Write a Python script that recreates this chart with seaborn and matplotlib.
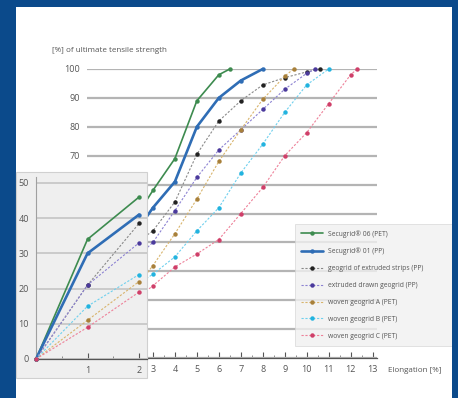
import matplotlib
matplotlib.use("Agg")
import matplotlib.pyplot as plt
from matplotlib.patches import Rectangle
from matplotlib.ticker import MultipleLocator
import seaborn as sns

sns.set_theme(style="white")
plt.rcParams['font.family'] = ['Open Sans', 'DejaVu Sans']

## series: elongation [%] vs [%] of ultimate tensile strength
names = ["Secugrid® 06 (PET)", "Secugrid® 01 (PP)", "geogrid of extruded strips (PP)",
         "extruded drawn geogrid (PP)", "woven geogrid A (PET)", "woven geogrid B (PET)",
         "woven geogrid C (PET)"]

elong_06 = [0, 1, 2, 3, 4, 5, 6, 6.5]
str_06 = [0, 34, 46, 58, 69, 89, 98, 100]

elong_01 = [0, 1, 2, 3, 4, 5, 6, 7, 8]
str_01 = [0, 30, 41, 52, 61, 80, 90, 96, 100]

elong_strips = [0, 1, 2, 3, 4, 5, 6, 7, 8, 9, 10, 10.6]
str_strips = [0, 21, 38.5, 44, 54, 70.5, 82, 89, 94.5, 97, 99, 100]

elong_drawn = [0, 1, 2, 3, 4, 5, 6, 7, 8, 9, 10, 10.4]
str_drawn = [0, 21, 33, 40, 51, 62.5, 72, 79, 86, 93, 98.5, 100]

elong_a = [0, 1, 2, 3, 4, 5, 6, 7, 8, 9, 9.4]
str_a = [0, 11, 22, 32, 43, 55, 68, 79, 89.5, 97.5, 100]

elong_b = [0, 1, 2, 3, 4, 5, 6, 7, 8, 9, 10, 11]
str_b = [0, 15, 24, 29, 35, 44, 52, 64, 74, 85, 94.5, 100]

elong_c = [0, 1, 2, 3, 4, 5, 6, 7, 8, 9, 10, 11, 12, 12.3]
str_c = [0, 9, 19, 25, 31.5, 36, 41, 50, 59, 70, 78, 88, 98, 100]

main_ticks = list(range(0, 14))
y_ticks = [0, 10, 20, 30, 40, 50, 60, 70, 80, 90, 100]
inset_yticks = [0, 10, 20, 30, 40, 50]

series = [(elong_06, str_06), (elong_01, str_01), (elong_strips, str_strips),
          (elong_drawn, str_drawn), (elong_a, str_a), (elong_b, str_b), (elong_c, str_c)]
line_cols = ["#3d8b4f", "#2f6db5", "#8a8a8a", "#8c82d2", "#d8b46c", "#6fd0ee", "#ee8199"]
dot_cols = ["#3d8b4f", "#2f6db5", "#222222", "#4b3a9c", "#a8803a", "#22b3df", "#cf3f69"]
widths = [1.2, 1.9, 0.8, 0.8, 0.8, 0.8, 0.8]
styles = ["-", "-", (0, (2, 1.5)), (0, (2, 1.5)), (0, (2, 1.5)), (0, (2, 1.5)), (0, (2, 1.5))]

W, H = 458, 398
fig = plt.figure(figsize=(W / 100, H / 100), dpi=100)
fig.patch.set_facecolor("#0b4a8b")
fig.add_artist(Rectangle((16 / W, 0), (452 - 16) / W, (H - 7) / H, transform=fig.transFigure,
                         facecolor="white", edgecolor="none", zorder=-10))

txt = "#555555"

## main chart
ax = fig.add_axes([87 / W, (H - 358) / H, 290 / W, 289 / H])
ax.set_facecolor("none")
for i, (xs, ys) in enumerate(series):
    sns.lineplot(x=xs, y=ys, ax=ax, color=line_cols[i], linewidth=widths[i], linestyle=styles[i],
                 marker="o", markersize=3.2, markerfacecolor=dot_cols[i], markeredgecolor=dot_cols[i],
                 markeredgewidth=0, sort=False, estimator=None, label=names[i], clip_on=False, zorder=3)
ax.set_xlim(0, 13.2)
ax.set_ylim(0, 100)
ax.set_xticks(main_ticks)
ax.xaxis.set_minor_locator(MultipleLocator(0.5))
ax.set_yticks(y_ticks)
ax.yaxis.grid(True, color="#b4b4b4", linewidth=1.6)
ax.xaxis.grid(False)
for s in ["top", "right", "left"]:
    ax.spines[s].set_visible(False)
ax.spines["bottom"].set_color("#555555")
ax.spines["bottom"].set_linewidth(0.9)
ax.tick_params(axis="x", which="major", direction="in", length=4, width=0.8, color="#555555",
               labelsize=6.5, labelcolor=txt, pad=5, bottom=True)
ax.tick_params(axis="x", which="minor", direction="in", length=2, width=0.6, color="#777777", bottom=True)
ax.tick_params(axis="y", length=0, labelsize=6.5, labelcolor=txt, pad=5)
ax.set_xlabel("")
ax.set_ylabel("")
fig.text(52 / W, 1 - 50 / H, "[%] of ultimate tensile strength", fontsize=5.8, color=txt,
         ha="left", va="center")
fig.text(388 / W, 1 - 371 / H, "Elongation [%]", fontsize=5.8, color=txt, ha="left", va="center")

leg = ax.legend(loc="upper left", bbox_to_anchor=(295 / W, (H - 343) / H, 165 / W, 119 / H),
                bbox_transform=fig.transFigure, mode="expand", fontsize=4.9, frameon=True,
                fancybox=False, facecolor="#f1f1f1", edgecolor="#d6d6d6", handlelength=3.2,
                labelspacing=1.45, borderpad=0.9, labelcolor=txt, borderaxespad=0, numpoints=1)
leg.get_frame().set_linewidth(0.6)

## grey box behind the inset
fig.add_artist(Rectangle((16 / W, (H - 378) / H), 131 / W, 206 / H, transform=fig.transFigure,
                         facecolor="#efefef", edgecolor="#d0d0d0", linewidth=0.8, zorder=1))

## inset with the first 2 % of elongation
axi = fig.add_axes([36 / W, (H - 359) / H, 111 / W, 182 / H], zorder=2)
axi.set_facecolor("none")
for i, (xs, ys) in enumerate(series):
    sns.lineplot(x=xs[:3], y=ys[:3], ax=axi, color=line_cols[i], linewidth=widths[i], linestyle=styles[i],
                 marker="o", markersize=3.2, markerfacecolor=dot_cols[i], markeredgecolor=dot_cols[i],
                 markeredgewidth=0, sort=False, estimator=None, clip_on=False, zorder=3)
axi.set_xlim(0, 2.155)
axi.set_ylim(0, 51.7)
axi.set_xticks([1, 2])
axi.xaxis.set_minor_locator(MultipleLocator(0.5))
axi.set_yticks(inset_yticks)
axi.yaxis.grid(True, color="#c4c4c4", linewidth=1.2)
axi.xaxis.grid(False)
for s in ["top", "right"]:
    axi.spines[s].set_visible(False)
axi.spines["left"].set_color("#a0a0a0")
axi.spines["left"].set_linewidth(0.8)
axi.spines["bottom"].set_color("#555555")
axi.spines["bottom"].set_linewidth(0.9)
axi.tick_params(axis="x", which="major", direction="in", length=4, width=0.8, color="#555555",
                labelsize=6.5, labelcolor=txt, pad=5, bottom=True)
axi.tick_params(axis="x", which="minor", direction="in", length=2, width=0.6, color="#777777", bottom=True)
axi.tick_params(axis="y", length=0, labelsize=6.5, labelcolor=txt, pad=5)
axi.set_xlabel("")
axi.set_ylabel("")
if axi.get_legend():
    axi.get_legend().remove()

## blue frame on the right over the cut-off texts
fig.add_artist(Rectangle((452 / W, 0), 6 / W, 1, transform=fig.transFigure,
                         facecolor="#0b4a8b", edgecolor="none", zorder=50))

fig.savefig("out.png", dpi=100, facecolor=fig.get_facecolor())
